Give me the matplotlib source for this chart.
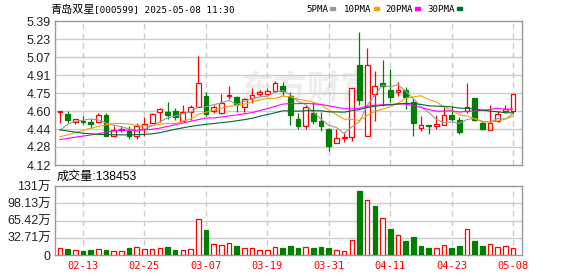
import matplotlib
matplotlib.use('Agg')
import matplotlib.pyplot as plt
from matplotlib.patches import Rectangle
import numpy as np

dates = ['02-10', '02-11', '02-12', '02-13', '02-14', '02-17', '02-18', '02-19', '02-20', '02-21',
         '02-24', '02-25', '02-26', '02-27', '02-28', '03-03', '03-04', '03-05', '03-06', '03-07',
         '03-10', '03-11', '03-12', '03-13', '03-14', '03-17', '03-18', '03-19', '03-20', '03-21',
         '03-24', '03-25', '03-26', '03-27', '03-28', '03-31', '04-01', '04-02', '04-03', '04-07',
         '04-08', '04-09', '04-10', '04-11', '04-14', '04-15', '04-16', '04-17', '04-18', '04-21',
         '04-22', '04-23', '04-24', '04-25', '04-28', '04-29', '04-30', '05-06', '05-07', '05-08']

opens = [4.59, 4.57, 4.50, 4.51, 4.50, 4.50, 4.56, 4.38, 4.43, 4.42,
         4.38, 4.44, 4.49, 4.59, 4.59, 4.60, 4.51, 4.59, 4.63, 4.73,
         4.60, 4.58, 4.73, 4.72, 4.63, 4.71, 4.75, 4.75, 4.77, 4.82,
         4.73, 4.53, 4.46, 4.58, 4.51, 4.44, 4.31, 4.36, 4.37, 5.00,
         4.38, 4.75, 4.84, 4.78, 4.76, 4.78, 4.68, 4.45, 4.47, 4.46,
         4.47, 4.56, 4.52, 4.60, 4.71, 4.49, 4.43, 4.51, 4.60, 4.60]
highs = [4.60, 4.60, 4.53, 4.55, 4.53, 4.58, 4.58, 4.46, 4.46, 4.46,
         4.49, 4.54, 4.58, 4.62, 4.68, 4.62, 4.65, 4.65, 5.08, 4.76,
         4.65, 4.75, 4.82, 4.73, 4.71, 4.80, 4.78, 4.80, 4.86, 4.85,
         4.76, 4.58, 4.65, 4.68, 4.59, 4.45, 4.44, 4.41, 4.80, 5.29,
         5.15, 4.95, 5.05, 4.97, 4.85, 4.81, 4.71, 4.55, 4.47, 4.56,
         4.63, 4.64, 4.54, 4.84, 4.71, 4.51, 4.65, 4.60, 4.65, 4.75]
lows = [4.49, 4.49, 4.48, 4.48, 4.45, 4.50, 4.38, 4.38, 4.41, 4.35,
        4.35, 4.38, 4.49, 4.50, 4.53, 4.52, 4.51, 4.52, 4.63, 4.55,
        4.58, 4.57, 4.70, 4.59, 4.59, 4.67, 4.73, 4.74, 4.76, 4.74,
        4.47, 4.44, 4.44, 4.48, 4.42, 4.24, 4.31, 4.32, 4.33, 4.65,
        4.38, 4.51, 4.64, 4.68, 4.73, 4.61, 4.38, 4.42, 4.39, 4.44,
        4.47, 4.51, 4.39, 4.58, 4.51, 4.43, 4.43, 4.50, 4.58, 4.58]
closes = [4.60, 4.52, 4.53, 4.50, 4.48, 4.56, 4.38, 4.43, 4.44, 4.38,
          4.46, 4.48, 4.57, 4.61, 4.56, 4.54, 4.59, 4.63, 4.84, 4.57,
          4.63, 4.67, 4.74, 4.66, 4.70, 4.74, 4.76, 4.77, 4.84, 4.77,
          4.56, 4.46, 4.63, 4.51, 4.46, 4.29, 4.36, 4.37, 4.80, 4.69,
          5.00, 4.82, 4.82, 4.72, 4.78, 4.72, 4.49, 4.47, 4.46, 4.48,
          4.56, 4.53, 4.41, 4.63, 4.52, 4.44, 4.49, 4.57, 4.61, 4.75]
prev_close = 4.55  # close before the first day shown

# volume in 万
volumes = [12.6, 11.3, 8.8, 7.5, 9.4, 10.7, 9.4, 6.9, 6.9, 13.2,
           14.5, 10.7, 10.7, 12.6, 15.1, 9.4, 8.8, 10.7, 69.2, 47.2,
           20.1, 18.2, 22.0, 17.0, 12.6, 12.6, 8.8, 8.8, 14.5, 13.2,
           16.4, 13.2, 14.5, 13.2, 15.1, 13.2, 8.8, 6.9, 27.7, 120.8,
           105.0, 92.5, 71.1, 49.1, 37.1, 26.4, 34.0, 17.0, 13.2, 12.6,
           18.2, 13.2, 17.0, 48.4, 26.4, 17.0, 20.1, 15.1, 16.4, 13.85]

ma5 = [4.425, 4.48, 4.505, 4.515, 4.526, 4.518, 4.49, 4.47, 4.458, 4.438,
       4.418, 4.438, 4.466, 4.50, 4.536, 4.552, 4.574, 4.586, 4.632, 4.634,
       4.652, 4.668, 4.69, 4.654, 4.68, 4.702, 4.72, 4.726, 4.762, 4.776,
       4.74, 4.68, 4.652, 4.586, 4.524, 4.47, 4.45, 4.398, 4.456, 4.502,
       4.644, 4.736, 4.826, 4.81, 4.828, 4.772, 4.706, 4.636, 4.584, 4.524,
       4.492, 4.50, 4.488, 4.522, 4.53, 4.506, 4.498, 4.53, 4.526, 4.572]
ma10 = [4.37, 4.385, 4.405, 4.425, 4.445, 4.46, 4.475, 4.485, 4.487, 4.482,
        4.468, 4.464, 4.468, 4.479, 4.487, 4.485, 4.506, 4.526, 4.566, 4.585,
        4.602, 4.621, 4.638, 4.643, 4.657, 4.677, 4.694, 4.708, 4.708, 4.728,
        4.721, 4.70, 4.689, 4.674, 4.65, 4.605, 4.565, 4.525, 4.521, 4.513,
        4.557, 4.593, 4.612, 4.633, 4.665, 4.708, 4.721, 4.731, 4.697, 4.676,
        4.632, 4.603, 4.562, 4.553, 4.527, 4.499, 4.499, 4.509, 4.524, 4.551]
ma20 = [4.345, 4.355, 4.365, 4.375, 4.385, 4.395, 4.41, 4.42, 4.425, 4.427,
        4.428, 4.43, 4.435, 4.445, 4.46, 4.475, 4.49, 4.505, 4.52, 4.534,
        4.535, 4.543, 4.553, 4.561, 4.572, 4.581, 4.60, 4.617, 4.637, 4.657,
        4.662, 4.661, 4.664, 4.659, 4.654, 4.641, 4.630, 4.617, 4.615, 4.621,
        4.639, 4.647, 4.651, 4.654, 4.658, 4.657, 4.643, 4.628, 4.609, 4.595,
        4.595, 4.598, 4.587, 4.593, 4.596, 4.604, 4.610, 4.620, 4.611, 4.614]
ma30 = [4.43, 4.42, 4.41, 4.40, 4.395, 4.39, 4.388, 4.387, 4.386, 4.386,
        4.388, 4.39, 4.395, 4.405, 4.42, 4.435, 4.448, 4.46, 4.47, 4.478,
        4.486, 4.494, 4.50, 4.51, 4.52, 4.532, 4.55, 4.565, 4.58, 4.598,
        4.597, 4.595, 4.598, 4.599, 4.598, 4.589, 4.588, 4.586, 4.598, 4.609,
        4.627, 4.638, 4.647, 4.650, 4.658, 4.664, 4.660, 4.655, 4.642, 4.639,
        4.637, 4.632, 4.621, 4.620, 4.614, 4.604, 4.595, 4.589, 4.581, 4.580]

tick_dates = ['02-13', '02-25', '03-07', '03-19', '03-31', '04-11', '04-23', '05-08']
price_labels = ['4.12', '4.28', '4.44', '4.60', '4.75', '4.91', '5.07', '5.23', '5.39']
vol_labels = ['0', '32.71万', '65.42万', '98.13万', '131万']

RED = '#ff0000'
GREEN = '#008000'
GRID = '#cccccc'
BORDER = '#999999'
LABEL_FONT = ['Liberation Sans', 'Noto Sans CJK SC']
MONO_FONT = ['DejaVu Sans Mono', 'Noto Sans CJK SC']

W, H = 578, 276
fig = plt.figure(figsize=(W / 100, H / 100), dpi=100)
ax = fig.add_axes([55 / W, 111 / H, 467 / W, 144 / H])
axv = fig.add_axes([55 / W, 21 / H, 467 / W, 69 / H])

x = np.arange(len(dates))
o = np.array(opens)
hi = np.array(highs)
lo = np.array(lows)
c = np.array(closes)
up = c >= o
tick_pos = [dates.index(d) for d in tick_dates]

# candles
wick_colors = np.where(up, RED, GREEN)
ax.vlines(x, lo, hi, colors=wick_colors, lw=0.9, zorder=2)
body_bottom = np.minimum(o, c)
body_h = np.maximum(np.abs(c - o), 0.004)
ax.bar(x[up], body_h[up], 0.62, bottom=body_bottom[up], facecolor='white',
       edgecolor=RED, lw=0.9, zorder=3)
ax.bar(x[~up], body_h[~up], 0.62, bottom=body_bottom[~up], facecolor=GREEN,
       edgecolor=GREEN, lw=0.9, zorder=3)

# moving averages
ax.plot(x, ma5, color='#999999', lw=0.8, zorder=4)
ax.plot(x, ma10, color='#f5a300', lw=0.8, zorder=4)
ax.plot(x, ma20, color='#ff00ff', lw=0.8, zorder=4)
ax.plot(x, ma30, color='#006a33', lw=0.8, zorder=4)

ax.text(0.54, 0.52, '东方财富', transform=ax.transAxes, ha='center', va='center',
        fontsize=24, fontweight='bold', color='#eeeeee', family=LABEL_FONT, zorder=0)

# volume
v = np.array(volumes)
prev = np.r_[prev_close, c[:-1]]
vup = c >= prev
axv.bar(x[vup], v[vup], 0.6, facecolor='white', edgecolor=RED, lw=0.9, zorder=3)
axv.bar(x[~vup], v[~vup], 0.6, facecolor=GREEN, edgecolor=GREEN, lw=0.9, zorder=3)

price_ticks = np.linspace(4.12, 5.39, len(price_labels))
vol_ticks = np.linspace(0, 130.84, len(vol_labels))

for a, ticks, labels, lim in [(ax, price_ticks, price_labels, (4.12, 5.39)),
                              (axv, vol_ticks, vol_labels, (0, 130.84))]:
    a.set_xlim(-0.65, 60.16)
    a.set_ylim(*lim)
    a.set_yticks(ticks)
    a.set_yticklabels(labels, family=LABEL_FONT, fontsize=9, color='#222222')
    a.tick_params(axis='both', length=0, pad=3)
    for t in ticks[1:-1]:
        a.axhline(t, color=GRID, lw=1, zorder=1)
    for p in tick_pos:
        a.axvline(p, color=GRID, lw=1, ls=(0, (4, 3)), zorder=1)
    for s in a.spines.values():
        s.set_color(BORDER)
        s.set_linewidth(1)
    a.set_xticks(tick_pos)

ax.set_xticklabels([])
axv.set_xticklabels(tick_dates, family=MONO_FONT, fontsize=7.5, color=RED)
axv.tick_params(axis='x', pad=4)

# header: stock name, code and time, then MA legend
fig.text(50 / W, 1 - 9.5 / H, '青岛双星', family=['Noto Sans CJK SC'],
         fontsize=8, color='#000000', ha='left', va='center')
fig.text(94 / W, 1 - 9.5 / H, '[000599] 2025-05-08 11:30', family=MONO_FONT,
         fontsize=6.7, color='#000000', ha='left', va='center')
legend = [('5PMA', 306, '#999999'), ('10PMA', 344, '#f5a300'),
          ('20PMA', 385, '#ff00ff'), ('30PMA', 427, '#006a33')]
for name, lx, col in legend:
    fig.text(lx / W, 1 - 9 / H, name, family=MONO_FONT, fontsize=6.6,
             color='#000000', ha='left', va='center')
    sq_x = lx + 5.5 * len(name) + 2
    fig.patches.append(Rectangle((sq_x / W, 1 - 10 / H), 5 / W, 3 / H,
                                 transform=fig.transFigure, color=col))

fig.text(57 / W, 1 - 177 / H, '成交量:138453', family=LABEL_FONT, fontsize=8.7,
         color='#000000', ha='left', va='center')

fig.savefig('out.png', dpi=100)
